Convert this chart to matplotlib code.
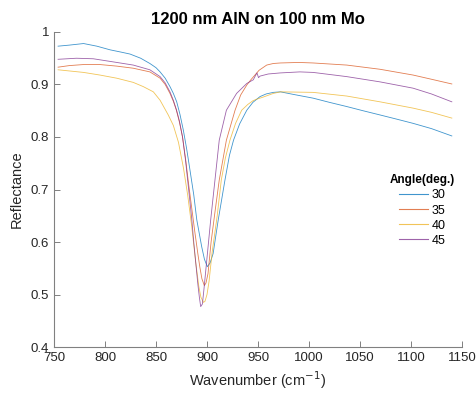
import numpy as np
import matplotlib
matplotlib.use("Agg")
import matplotlib.pyplot as plt

plt.rcParams['font.family'] = ['Liberation Sans', 'DejaVu Sans']

angles = ["30", "35", "40", "45"]
colors = ["#0072BD", "#D95319", "#EDB120", "#7E2F8E"]

wn_30 = [754, 765, 779, 792, 805, 815, 824.5, 835, 844, 850, 854, 859, 863.7, 867, 870.3, 873.5,
         876.8, 880, 883.3, 887, 890, 894.8, 897.5, 900.3, 903, 906, 911, 917.6, 922, 926, 932, 939,
         945, 952, 958, 965, 972, 985, 1004, 1020, 1037, 1053, 1069.6, 1086, 1102, 1120, 1140]
r_30 = [0.973, 0.975, 0.978, 0.973, 0.966, 0.962, 0.958, 0.950, 0.940, 0.932, 0.924, 0.912, 0.896,
        0.883, 0.867, 0.843, 0.813, 0.778, 0.737, 0.690, 0.642, 0.591, 0.567, 0.553, 0.560, 0.578,
        0.642, 0.718, 0.765, 0.794, 0.825, 0.851, 0.866, 0.877, 0.882, 0.885, 0.886, 0.881, 0.874,
        0.866, 0.858, 0.850, 0.842, 0.834, 0.826, 0.816, 0.802]

wn_35 = [754, 765, 779, 795, 811.5, 827.7, 844, 854, 859, 863.7, 867, 870, 873, 876, 879, 882, 885,
         888, 891, 893, 895, 897.4, 899, 901, 904, 908, 912, 919, 927.5, 933, 939, 943, 947, 951,
         958.5, 965, 972, 990, 1004, 1037, 1069.6, 1102, 1120, 1140]
r_35 = [0.933, 0.936, 0.938, 0.938, 0.935, 0.931, 0.924, 0.912, 0.900, 0.883, 0.868, 0.851, 0.828,
        0.800, 0.758, 0.710, 0.665, 0.620, 0.578, 0.552, 0.530, 0.517, 0.522, 0.540, 0.600, 0.660,
        0.718, 0.794, 0.851, 0.880, 0.899, 0.909, 0.918, 0.927, 0.937, 0.940, 0.941, 0.942, 0.941,
        0.937, 0.929, 0.918, 0.910, 0.901]

wn_40 = [754, 779, 795, 811.5, 827.7, 837.5, 847.4, 854, 862, 867, 872, 877, 881, 885, 889, 892,
         894, 896.5, 898, 900, 902, 905, 910, 914, 918, 922.5, 928, 934, 940, 945, 948.7, 955, 965,
         972, 1004, 1037, 1069.6, 1102, 1120, 1140]
r_40 = [0.928, 0.923, 0.918, 0.912, 0.904, 0.896, 0.886, 0.870, 0.842, 0.822, 0.790, 0.740, 0.690,
        0.630, 0.560, 0.515, 0.495, 0.485, 0.487, 0.500, 0.525, 0.580, 0.650, 0.718, 0.760, 0.794,
        0.826, 0.851, 0.862, 0.869, 0.872, 0.876, 0.883, 0.886, 0.885, 0.878, 0.867, 0.855, 0.847,
        0.836]

wn_45 = [754, 772, 788.5, 811.5, 827.7, 844, 854, 859, 863.7, 867, 870, 873, 876, 879, 882, 885,
         887, 889, 891, 892.5, 893.8, 895.5, 897, 900, 903.6, 907.8, 912, 919, 929, 939, 945.4,
         947.5, 949, 950.5, 952, 960, 971.6, 991, 1004, 1037, 1069.6, 1102, 1120, 1140]
r_45 = [0.948, 0.950, 0.949, 0.942, 0.937, 0.928, 0.915, 0.903, 0.886, 0.870, 0.852, 0.830, 0.800,
        0.755, 0.700, 0.645, 0.600, 0.560, 0.520, 0.495, 0.477, 0.482, 0.510, 0.570, 0.642, 0.718,
        0.794, 0.851, 0.883, 0.902, 0.909, 0.917, 0.922, 0.913, 0.916, 0.920, 0.922, 0.924, 0.923,
        0.915, 0.905, 0.893, 0.882, 0.867]

series = [(wn_30, r_30), (wn_35, r_35), (wn_40, r_40), (wn_45, r_45)]

fig = plt.figure(figsize=(4.77, 3.93), dpi=100)
ax = fig.add_axes([0.1132, 0.117, 0.8554, 0.8016])

for (wn, r), ang, c in zip(series, angles, colors):
    ax.plot(wn, r, color=c, lw=0.6, alpha=0.75, label=ang)

ax.set_xlim(750, 1150)
ax.set_ylim(0.4, 1.0)
ax.set_xticks(np.arange(750, 1151, 50))
ax.set_yticks([0.4, 0.5, 0.6, 0.7, 0.8, 0.9, 1.0])
ax.set_yticklabels(["0.4", "0.5", "0.6", "0.7", "0.8", "0.9", "1"])

for s in ["top", "right"]:
    ax.spines[s].set_visible(False)
for s in ["left", "bottom"]:
    ax.spines[s].set_color("#808080")
    ax.spines[s].set_linewidth(0.8)
ax.tick_params(direction="in", length=4, width=0.7, color="#808080",
               labelsize=9.5, labelcolor="#262626")

ax.set_xlabel("Wavenumber (cm$^{-1}$)", fontsize=10.5, color="#262626", labelpad=4)
ax.set_ylabel("Reflectance", fontsize=10.5, color="#262626", labelpad=5)
ax.set_title("1200 nm AlN on 100 nm Mo", fontsize=12, fontweight="bold", pad=6)

leg = ax.legend(title="Angle(deg.)", frameon=False, fontsize=9, loc="upper left",
                bbox_to_anchor=(0.811, 0.564), handlelength=2.3, handletextpad=0.3,
                labelspacing=0.25, borderaxespad=0)
leg.get_title().set_fontweight("bold")
leg.get_title().set_fontsize(8.5)
for h in leg.legend_handles:
    h.set_linewidth(0.8)

fig.savefig("out.png", dpi=100)
